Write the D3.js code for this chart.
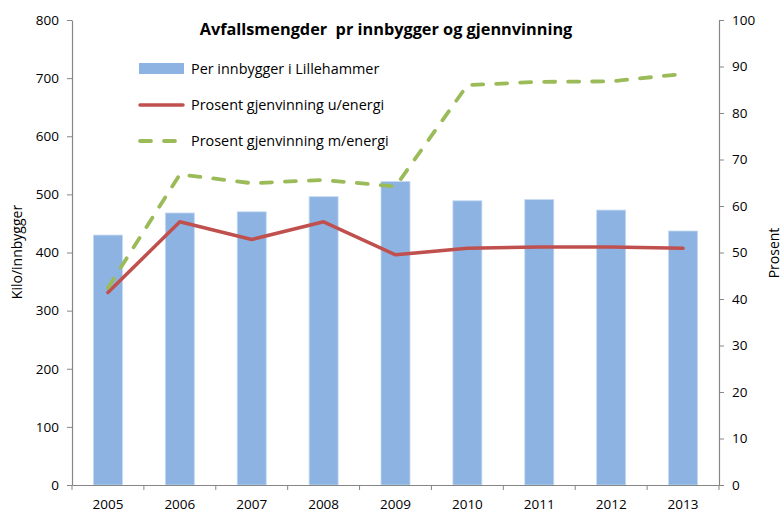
<!DOCTYPE html>
<html>
<head>
<meta charset="utf-8">
<script src="https://cdn.jsdelivr.net/npm/d3@7"></script>
<style>
  body { margin: 0; background: #fff; }
  svg { font-family: "Open Sans", Lato, sans-serif; }
</style>
</head>
<body>
<svg class="chart"></svg>
<script>
var years = ["2005", "2006", "2007", "2008", "2009", "2010", "2011", "2012", "2013"];
var perInnbygger = [430, 468, 470, 496, 522, 489, 491, 473, 437];
var gjenvUEnergi = [41.4, 56.6, 52.8, 56.6, 49.5, 50.9, 51.2, 51.2, 50.9];
var gjenvMEnergi = [42.4, 66.8, 64.9, 65.6, 64.2, 86.0, 86.7, 86.8, 88.4];
var leftTicks = [0, 100, 200, 300, 400, 500, 600, 700, 800];
var rightTicks = [0, 10, 20, 30, 40, 50, 60, 70, 80, 90, 100];

var W = 783, H = 515;
var margin = { top: 20, left: 72, right: 64, bottom: 30 };
var width = W - margin.left - margin.right,
    height = H - margin.top - margin.bottom;

var svg = d3.select(".chart").attr("width", W).attr("height", H);
var g = svg.append("g")
    .attr("transform", "translate(" + margin.left + "," + margin.top + ")");

var xc = d3.scaleBand().domain(years).range([0, width]);
var yL = d3.scaleLinear().domain([0, 800]).range([height, 0]);
var yR = d3.scaleLinear().domain([0, 100]).range([height, 0]);

var axisColor = "#868686";
var font = "'Open Sans', Lato, sans-serif";

// bars
g.selectAll("rect.bar").data(perInnbygger).enter().append("rect")
    .attr("class", "bar")
    .attr("x", function(d, i) { return xc(years[i]) + xc.bandwidth() / 2 - 14.5; })
    .attr("width", 29)
    .attr("y", function(d) { return yL(d); })
    .attr("height", function(d) { return height - yL(d); })
    .attr("fill", "#8db3e2")
    .attr("stroke", "#c6d9f1")
    .attr("stroke-width", 0.8);

// axes
var leftAxis = g.append("g")
    .call(d3.axisLeft(yL).tickValues(leftTicks).tickSize(5).tickSizeOuter(0).tickPadding(8));
var rightAxis = g.append("g").attr("transform", "translate(" + width + ",0)")
    .call(d3.axisRight(yR).tickValues(rightTicks).tickSize(5).tickSizeOuter(0).tickPadding(8));
var bottomAxis = g.append("g").attr("transform", "translate(0," + height + ")")
    .call(d3.axisBottom(xc).tickSize(0).tickSizeOuter(0).tickPadding(14));

// category boundary ticks
g.selectAll("line.xtick").data(d3.range(years.length + 1)).enter().append("line")
    .attr("x1", function(i) { return i * xc.step(); })
    .attr("x2", function(i) { return i * xc.step(); })
    .attr("y1", height).attr("y2", height + 5)
    .attr("stroke", axisColor);

[leftAxis, rightAxis, bottomAxis].forEach(function(a) {
    a.selectAll("path.domain").attr("stroke", axisColor).attr("stroke-width", 1.2);
    a.selectAll(".tick line").attr("stroke", axisColor);
    a.selectAll("text").attr("font-size", 13.5).attr("fill", "#000")
        .style("font-family", font);
});

// lines
var lineR = d3.line()
    .x(function(d, i) { return xc(years[i]) + xc.bandwidth() / 2; })
    .y(function(d) { return yR(d); });

g.append("path").datum(gjenvUEnergi)
    .attr("d", lineR).attr("fill", "none")
    .attr("stroke", "#c0504d").attr("stroke-width", 3.5)
    .attr("stroke-linejoin", "round").attr("stroke-linecap", "round");

g.append("path").datum(gjenvMEnergi)
    .attr("d", lineR).attr("fill", "none")
    .attr("stroke", "#9bbb59").attr("stroke-width", 3.8)
    .attr("stroke-dasharray", "11,13")
    .attr("stroke-linecap", "round");

// titles
svg.append("text")
    .attr("x", 386).attr("y", 35)
    .attr("text-anchor", "middle")
    .attr("font-weight", "bold").attr("font-size", 16.3)
    .style("white-space", "pre")
    .text("Avfallsmengder  pr innbygger og gjennvinning");

svg.append("text")
    .attr("transform", "translate(22,252) rotate(-90)")
    .attr("text-anchor", "middle").attr("font-size", 14)
    .text("Kilo/innbygger");

svg.append("text")
    .attr("transform", "translate(779,253) rotate(-90)")
    .attr("text-anchor", "middle").attr("font-size", 14)
    .text("Prosent");

// legend
var legend = svg.append("g").attr("transform", "translate(139,0)");
legend.append("rect").attr("x", 0).attr("y", 63).attr("width", 45).attr("height", 11)
    .attr("fill", "#8db3e2");
legend.append("line").attr("x1", 1).attr("x2", 44).attr("y1", 105).attr("y2", 105)
    .attr("stroke", "#c0504d").attr("stroke-width", 3.5).attr("stroke-linecap", "round");
legend.append("line").attr("x1", 1).attr("x2", 44).attr("y1", 141).attr("y2", 141)
    .attr("stroke", "#9bbb59").attr("stroke-width", 3.8)
    .attr("stroke-dasharray", "11,13").attr("stroke-linecap", "round");

var legendLabels = ["Per innbygger i Lillehammer", "Prosent gjenvinning u/energi", "Prosent gjenvinning m/energi"];
legend.selectAll("text.lbl").data(legendLabels).enter().append("text")
    .attr("x", 52)
    .attr("y", function(d, i) { return [74, 110, 146][i]; })
    .attr("font-size", 14.4)
    .text(function(d) { return d; });
</script>
</body>
</html>
